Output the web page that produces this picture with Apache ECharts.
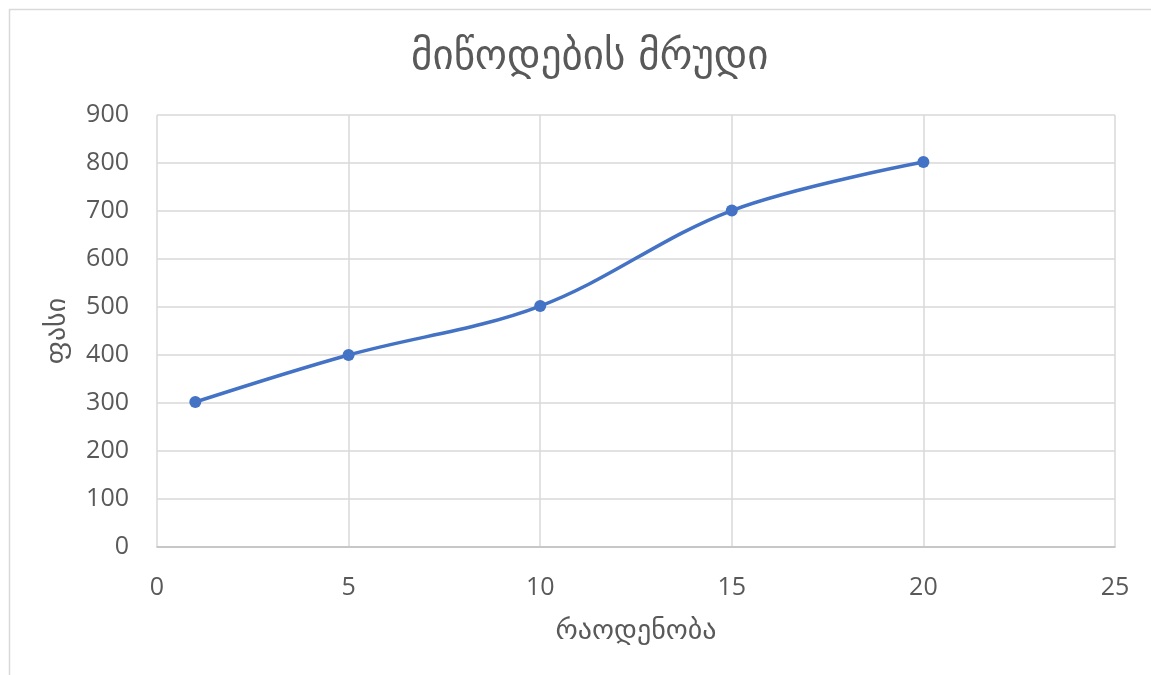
<!DOCTYPE html>
<html>
<head>
<meta charset="utf-8">
<script src="https://cdn.jsdelivr.net/npm/echarts@6/dist/echarts.min.js"></script>
<style>html,body{margin:0;padding:0;background:#fff;}#c{width:1151px;height:675px;}</style>
</head>
<body>
<div id="c"></div>
<script>
const titleText = 'მიწოდების მრუდი';
const xName = 'რაოდენობა';
const yName = 'ფასი';
const quantities = [1, 5, 10, 15, 20];
const prices = [302, 400, 502, 701, 802];
const xMin = 0, xMax = 25, xStep = 5;
const yMin = 0, yMax = 900, yStep = 100;

const chart = echarts.init(document.getElementById('c'));
const geoFont = '"DejaVu Sans", sans-serif';
const numFont = '"Open Sans", "DejaVu Sans", sans-serif';
const txt = '#595959';
chart.setOption({
  animation: false,
  backgroundColor: '#fff',
  title: {
    text: titleText, left: 406, top: 33,
    textStyle: { fontFamily: geoFont, fontSize: 41, fontWeight: 'normal', color: txt }
  },
  graphic: [{
    type: 'rect', left: 7, top: 7,
    shape: { width: 1160, height: 680 },
    style: { fill: 'none', stroke: '#d9d9d9', lineWidth: 1.5 },
    silent: true
  }],
  grid: { left: 157, right: 36, top: 115, bottom: 128 },
  xAxis: {
    type: 'value', min: xMin, max: xMax, interval: xStep,
    name: xName, nameLocation: 'middle', nameGap: 71,
    nameTextStyle: { fontFamily: geoFont, fontSize: 28, color: txt },
    axisLine: { show: true, lineStyle: { color: '#bfbfbf', width: 1.5 } },
    axisTick: { show: false },
    axisLabel: { fontFamily: numFont, fontSize: 25, color: txt, margin: 28 },
    splitLine: { show: true, lineStyle: { color: '#d9d9d9', width: 1.5 } }
  },
  yAxis: {
    type: 'value', min: yMin, max: yMax, interval: yStep,
    name: yName, nameLocation: 'middle', nameGap: 85, nameRotate: 90,
    nameTextStyle: { fontFamily: geoFont, fontSize: 28, color: txt },
    axisLine: { show: false },
    axisTick: { show: false },
    axisLabel: { fontFamily: numFont, fontSize: 25, color: txt, margin: 28 },
    splitLine: { show: true, lineStyle: { color: '#d9d9d9', width: 1.5 } }
  },
  series: [{
    type: 'line',
    data: quantities.map((q, i) => [q, prices[i]]),
    smooth: 0.35,
    symbol: 'circle', symbolSize: 12,
    lineStyle: { color: '#4472C4', width: 3.5 },
    itemStyle: { color: '#4472C4' }
  }]
});
</script>
</body>
</html>
